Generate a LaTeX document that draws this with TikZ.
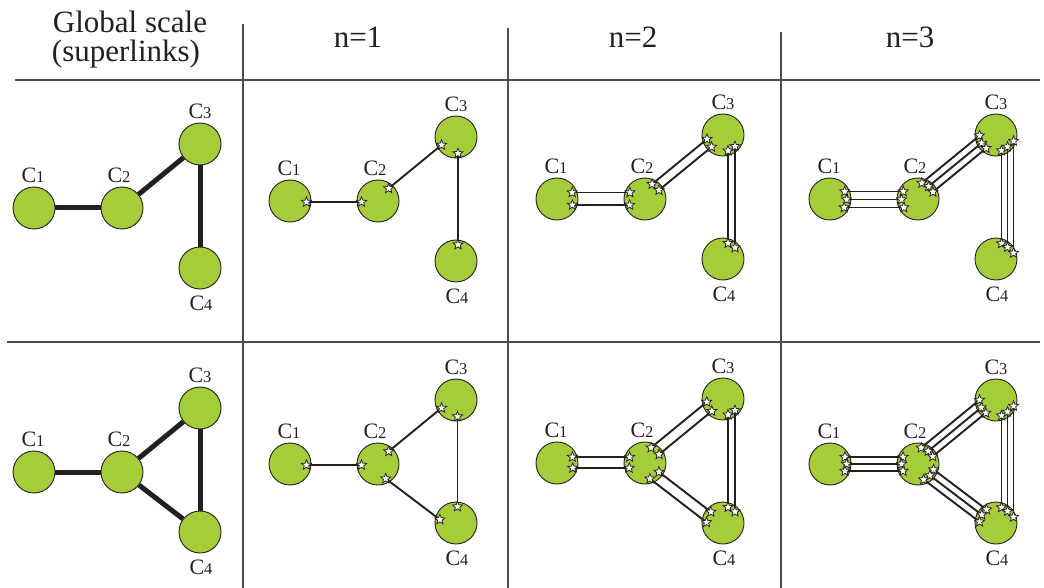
\documentclass[tikz,border=0pt]{standalone}
\usepackage{fontspec}
\setmainfont{Liberation Serif}
\usetikzlibrary{calc,shapes.geometric}
\definecolor{cgreen}{HTML}{A5CD39}
\definecolor{inkc}{HTML}{231F20}
\newcommand{\dg}[1]{{\fontsize{16.5}{16.5}\selectfont #1}}
\tikzset{
  clu/.style={circle,minimum size=42pt,inner sep=0pt,draw=inkc,line width=0.9pt,fill=cgreen},
  lab/.style={inner sep=0pt,font=\fontsize{22}{22}\selectfont,text=inkc},
  head/.style={inner sep=0pt,anchor=base,font=\fontsize{31}{33}\selectfont,text=inkc},
  gridln/.style={draw=black!70,line width=1.2pt},
  superlink/.style={draw=inkc,line width=5pt},
  link/.style={draw=inkc,line width=1.9pt},
  starmk/.style={star,star points=5,star point ratio=2.3,minimum size=10.5pt,inner sep=0pt,draw=inkc,fill=white,line width=0.75pt}
}
\newcommand{\fourclusters}[4]{%
  \node[clu] (#1c1) at (#2,#3) {};
  \node[clu] (#1c2) at ($(#1c1)+(88,0)$) {};
  \node[clu] (#1c3) at ($(#1c1)+(166,-64)$) {};
  \node[clu] (#1c4) at ($(#1c1)+(166,#4)$) {};
  \node[lab] (#1l1) at ($(#1c1)+(-1,-33)$) {C\dg{1}};
  \node[lab] (#1l2) at ($(#1c2)+(-3,-33)$) {C\dg{2}};
  \node[lab] (#1l3) at ($(#1c3)+(0,-33)$) {C\dg{3}};
  \node[lab] (#1l4) at ($(#1c4)+(1,35)$) {C\dg{4}};
}
\newcommand{\bundle}[3]{%
  \foreach \ofs in {#3}{%
    \pgfmathsetmacro\alongd{sqrt(max(272.25-(\ofs)*(\ofs),36))}%
    \draw[link] ($(#1.center)!\alongd pt!(#2.center)!\ofs pt!90:(#2.center)$) coordinate (sA)
       -- ($(#2.center)!\alongd pt!(#1.center)!\ofs pt!-90:(#1.center)$) coordinate (sB);
    \node[starmk] at (sA) {};
    \node[starmk] at (sB) {};
  }%
}
\begin{document}
\begin{tikzpicture}[x=1pt,y=-1pt]
\useasboundingbox (0,0) rectangle (1044,588);
% grid
\draw[gridln] (15,80) -- (1040,80);
\draw[gridln] (7,342) -- (1040,342);
\draw[gridln] (243,24) -- (243,588);
\draw[gridln] (508,28) -- (508,588);
\draw[gridln] (781,32) -- (781,588);
% headers
\node[head] (h0a) at (130,33) {Global scale};
\node[head] (h0b) at (126,62) {(superlinks)};
\node[head] (h1) at (358,48) {n=1};
\node[head] (h2) at (633,48) {n=2};
\node[head] (h3) at (910,48) {n=3};
% top row
\fourclusters{a}{34}{208}{60}
\draw[superlink] (ac1) -- (ac2);
\draw[superlink] (ac2) -- (ac3);
\draw[superlink] (ac3) -- (ac4);
\fourclusters{b}{290}{201}{60}
\bundle{bc1}{bc2}{-1}
\bundle{bc2}{bc3}{3}
\bundle{bc3}{bc4}{2}
\fourclusters{c}{557}{199}{60}
\bundle{cc1}{cc2}{6.5,-6}
\bundle{cc2}{cc3}{7,-2}
\bundle{cc3}{cc4}{5,12}
\fourclusters{d}{830}{199}{60}
\bundle{dc1}{dc2}{7.5,-0.5,-8.5}
\bundle{dc2}{dc3}{10,3,-4}
\bundle{dc3}{dc4}{5.5,11.5,17.5}
% bottom row
\fourclusters{e}{34}{472}{60}
\draw[superlink] (ec1) -- (ec2);
\draw[superlink] (ec2) -- (ec3);
\draw[superlink] (ec2) -- (ec4);
\draw[superlink] (ec3) -- (ec4);
\fourclusters{f}{290}{464}{59}
\bundle{fc1}{fc2}{-1}
\bundle{fc2}{fc3}{3}
\bundle{fc2}{fc4}{-7}
\bundle{fc3}{fc4}{1.5}
\fourclusters{g}{557}{463}{60}
\bundle{gc1}{gc2}{6,-5}
\bundle{gc2}{gc3}{8,-2.3}
\bundle{gc2}{gc4}{1.4,-9.5}
\bundle{gc3}{gc4}{5,12}
\fourclusters{h}{830}{464}{59}
\bundle{hc1}{hc2}{7,0,-7}
\bundle{hc2}{hc3}{10.5,3.5,-3.5}
\bundle{hc2}{hc4}{5,-2,-9}
\bundle{hc3}{hc4}{5.5,11.5,17.5}
\end{tikzpicture}
\end{document}
